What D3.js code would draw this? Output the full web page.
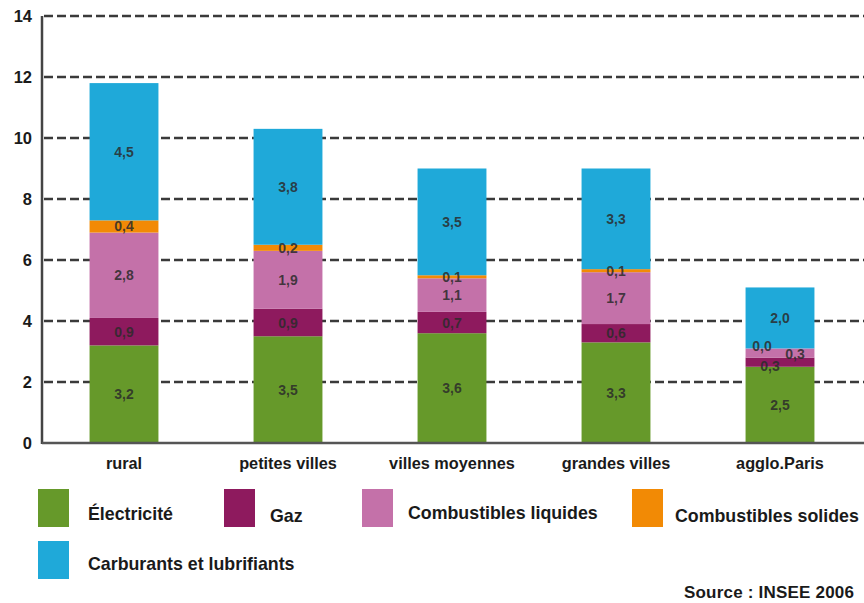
<!DOCTYPE html>
<html>
<head>
<meta charset="utf-8">
<script src="https://cdn.jsdelivr.net/npm/d3@7"></script>
<style>
  html, body { margin: 0; padding: 0; background: #fff; }
  svg { display: block; font-family: "Liberation Sans", Arial, sans-serif; }
</style>
</head>
<body>
<svg id="chart" width="864" height="603"></svg>
<script>
// Household energy spending by type of area (thousand euros)
const categories = ["rural", "petites villes", "villes moyennes", "grandes villes", "agglo.Paris"];
const seriesNames = ["Électricité", "Gaz", "Combustibles liquides", "Combustibles solides", "Carburants et lubrifiants"];
const electricite = [3.2, 3.5, 3.6, 3.3, 2.5];
const gaz = [0.9, 0.9, 0.7, 0.6, 0.3];
const liquides = [2.8, 1.9, 1.1, 1.7, 0.3];
const solides = [0.4, 0.2, 0.1, 0.1, 0.0];
const carburants = [4.5, 3.8, 3.5, 3.3, 2.0];
const yTicks = [0, 2, 4, 6, 8, 10, 12, 14];
const colors = ["#66992a", "#8e1a5e", "#c471a9", "#f28a05", "#1fa9d9"];
const sourceText = "Source : INSEE 2006";

const seriesValues = [electricite, gaz, liquides, solides, carburants];
const rows = categories.map((c, i) => {
  const r = { cat: c };
  seriesNames.forEach((s, k) => { r[s] = seriesValues[k][i]; });
  return r;
});

const svg = d3.select("#chart");
const plotLeft = 42, plotTop = 16, plotBottom = 443;

const x = d3.scaleBand().domain(categories).range([42, 862]).paddingInner(0.58).paddingOuter(0.29);
const y = d3.scaleLinear().domain([0, 14]).range([plotBottom, plotTop]);

// dashed horizontal grid
svg.append("g").selectAll("line").data(yTicks.filter(d => d > 0)).join("line")
  .attr("x1", plotLeft + 2).attr("x2", 864)
  .attr("y1", d => y(d)).attr("y2", d => y(d))
  .attr("stroke", "#3a3a3a").attr("stroke-width", 2.4).attr("stroke-dasharray", "9,4");

// stacked bars
const stack = d3.stack().keys(seriesNames)(rows);
const layers = svg.append("g").selectAll("g").data(stack).join("g")
  .attr("fill", (d, i) => colors[i]);
layers.selectAll("rect").data(d => d).join("rect")
  .attr("x", d => x(d.data.cat))
  .attr("width", x.bandwidth())
  .attr("y", d => y(d[1]))
  .attr("height", d => Math.max(0, y(d[0]) - y(d[1])));

// axes
svg.append("line").attr("x1", plotLeft).attr("x2", plotLeft).attr("y1", plotTop).attr("y2", plotBottom + 1)
  .attr("stroke", "#444").attr("stroke-width", 2.5);
svg.append("line").attr("x1", plotLeft).attr("x2", 864).attr("y1", plotBottom).attr("y2", plotBottom)
  .attr("stroke", "#555").attr("stroke-width", 2.5);

// y tick labels
svg.append("g").selectAll("text").data(yTicks).join("text")
  .attr("x", 32).attr("y", d => y(d) + 6)
  .attr("text-anchor", "end")
  .attr("font-size", 16.5).attr("font-weight", "bold").attr("fill", "#1a1a1a")
  .text(d => d);

// category labels
svg.append("g").selectAll("text").data(categories).join("text")
  .attr("x", d => x(d) + x.bandwidth() / 2).attr("y", 469)
  .attr("text-anchor", "middle")
  .attr("font-size", 16.3).attr("font-weight", "bold").attr("fill", "#1a1a1a")
  .text(d => d);

// value labels inside segments; thin segments in agglo.Paris are nudged apart
const nudge = {
  "agglo.Paris|Gaz": [-10, 4],
  "agglo.Paris|Combustibles liquides": [15, 1],
  "agglo.Paris|Combustibles solides": [-18, -2]
};
const fmt = v => d3.format(".1f")(v).replace(".", ",");
const labels = [];
stack.forEach(layer => {
  layer.forEach(d => {
    const n = nudge[d.data.cat + "|" + layer.key] || [0, 0];
    labels.push({
      x: x(d.data.cat) + x.bandwidth() / 2 + n[0],
      y: (y(d[0]) + y(d[1])) / 2 + n[1],
      t: fmt(d.data[layer.key])
    });
  });
});
svg.append("g").selectAll("text").data(labels).join("text")
  .attr("x", d => d.x).attr("y", d => d.y + 5)
  .attr("text-anchor", "middle")
  .attr("font-size", 14).attr("font-weight", "bold").attr("fill", "#2b2b2b")
  .attr("fill-opacity", 0.85)
  .text(d => d.t);

// legend
const legendPos = [
  { sx: 38, sy: 489, tx: 88, ty: 520 },
  { sx: 224, sy: 489, tx: 270, ty: 522 },
  { sx: 362, sy: 489, tx: 408, ty: 519 },
  { sx: 632, sy: 489, tx: 675, ty: 522 },
  { sx: 38, sy: 541, tx: 88, ty: 570 }
];
const legend = svg.append("g").selectAll("g").data(seriesNames).join("g");
legend.append("rect")
  .attr("x", (d, i) => legendPos[i].sx).attr("y", (d, i) => legendPos[i].sy)
  .attr("width", 31).attr("height", 38)
  .attr("fill", (d, i) => colors[i]);
legend.append("text")
  .attr("x", (d, i) => legendPos[i].tx).attr("y", (d, i) => legendPos[i].ty)
  .attr("font-size", 17.8).attr("font-weight", "bold").attr("fill", "#1a1a1a")
  .text(d => d);

svg.append("text").attr("x", 684).attr("y", 598)
  .attr("font-size", 17).attr("font-weight", "bold").attr("fill", "#1a1a1a")
  .attr("letter-spacing", 0.2)
  .text(sourceText);
</script>
</body>
</html>
